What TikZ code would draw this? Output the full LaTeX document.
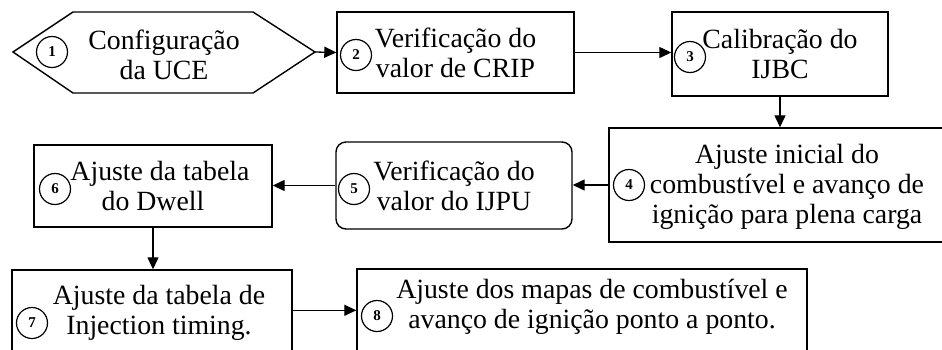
\documentclass[tikz,border=0pt]{standalone}
\usepackage{fontspec}
\setmainfont{Liberation Serif}
\usetikzlibrary{arrows.meta}
\begin{document}
\begin{tikzpicture}[x=1pt,y=-1pt,
  boxline/.style={draw, line width=1.4pt},
  stepbox/.style={boxline, inner sep=0pt, align=center, font=\fontsize{27.8}{30}\selectfont},
  btext/.style={inner sep=0pt, align=center, font=\fontsize{27.8}{30}\selectfont},
  num/.style={circle, draw, line width=1.2pt, minimum size=31pt, inner sep=0pt, font=\fontsize{15}{15}\selectfont\bfseries},
  arr/.style={line width=1.3pt, -{Triangle[length=12pt,width=11pt]}}]
\clip (0,0) rectangle (942,349);
% 1 hexagon
\draw[boxline] (13,52) -- (73,12) -- (253,12) -- (315,52) -- (253,93) -- (73,93) -- cycle;
\coordinate (h1e) at (315,52);
\node[btext] (t1) at (164,55) {Configuração\\da UCE};
% boxes
\node[stepbox, minimum width=237pt, minimum height=81pt] (b2) at (455.5,52.5) {Verificação do\\valor de CRIP};
\node[stepbox, minimum width=216pt, minimum height=84pt] (b3) at (780,54) {Calibração do\\IJBC};
\node[stepbox, minimum width=353pt, minimum height=114pt] (b4) at (785.5,185) {};
\node[btext] (t4) at (787,187) {Ajuste inicial do\\combustível e avanço de\\ignição para plena carga};
\node[stepbox, rounded corners=10pt, minimum width=236pt, minimum height=87pt] (b5) at (454,185.5) {Verificação do\\valor do IJPU};
\node[stepbox, minimum width=238pt, minimum height=82pt] (b6) at (153,186) {\hspace*{14pt}Ajuste da tabela\\do Dwell};
\node[stepbox, minimum width=280pt, minimum height=110pt] (b7) at (152,325) {};
\node[btext] (t7) at (159,313) {Ajuste da tabela de\\Injection timing.};
\node[stepbox, minimum width=450pt, minimum height=111pt] (b8) at (582,324.5) {};
\node[btext] (t8) at (592,307) {Ajuste dos mapas de combustível e\\avanço de ignição ponto a ponto.};
% numbers
\node[num] (c1) at (52,52) {1};
\node[num] (c2) at (356,55) {2};
\node[num] (c3) at (690,57) {3};
\node[num] (c4) at (629,185) {4};
\node[num] (c5) at (354,189) {5};
\node[num] (c6) at (55,189) {6};
\node[num] (c7) at (32,323) {7};
\node[num] (c8) at (377,316) {8};
% connectors
\draw[arr] (h1e) -- (b2.west);
\draw[arr] (b2.east) -- (b2.east -| b3.west);
\draw[arr] (b3.south) -- (b3.south |- b4.north);
\draw[arr] (b4.west) -- (b4.west -| b5.east);
\draw[arr] (b5.west) -- (b5.west -| b6.east);
\draw[arr] (b6.south) -- (b6.south |- b7.north);
\coordinate (b7e) at ([yshift=-41pt]b7.north east);
\draw[arr] (b7e) -- (b7e -| b8.west);
\end{tikzpicture}
\end{document}
